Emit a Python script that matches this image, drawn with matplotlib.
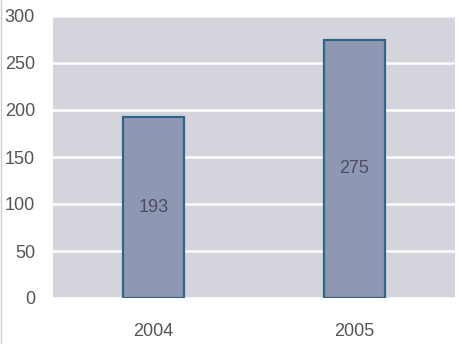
import matplotlib
matplotlib.use("Agg")
import matplotlib.pyplot as plt

plt.rcParams["font.family"] = ["Liberation Sans", "DejaVu Sans"]

years = ["2004", "2005"]
values = [193, 275]
yticks = [0, 50, 100, 150, 200, 250, 300]

fig = plt.figure(figsize=(4.6, 3.44), dpi=100)
ax = fig.add_axes([53/460, 1 - 298/344, 402/460, 282/344])
ax.set_facecolor("#d4d4dd")
x = list(range(len(years)))
bars = ax.bar(x, values, width=0.3, color="#9097b3", edgecolor="#2f6688", linewidth=1.6, zorder=3)
for xi, v in zip(x, values):
    ax.text(xi, v / 2, str(v), ha="center", va="center", fontsize=13, color="#4a4f66", zorder=4)
ax.set_xlim(-0.5, 1.5)
ax.set_ylim(0, 300)
ax.set_yticks(yticks)
ax.set_xticks(x)
ax.set_xticklabels(years)
ax.yaxis.grid(True, color="white", linewidth=1.8, zorder=1)
ax.set_axisbelow(True)
for s in ax.spines.values():
    s.set_visible(False)
ax.tick_params(axis="both", length=0, labelsize=13, labelcolor="#555555")
ax.tick_params(axis="y", pad=13)
ax.tick_params(axis="x", pad=18)
fig.add_artist(plt.Line2D([1/460, 1/460], [0, 1], color="#cccccc", linewidth=1))
fig.savefig("out.png", dpi=100, facecolor="white")
